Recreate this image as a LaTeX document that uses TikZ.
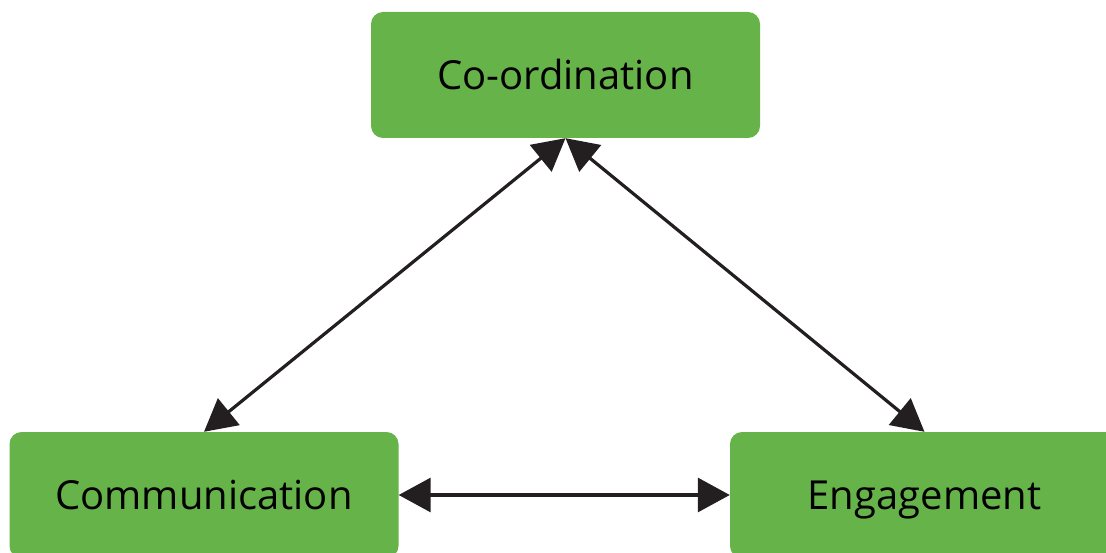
\documentclass[tikz,border=0pt]{standalone}
\usepackage{fontspec}
\setmainfont{Open Sans}
\usetikzlibrary{arrows.meta}
\definecolor{boxgreen}{HTML}{66B34A}
\definecolor{linedark}{HTML}{231F20}
\tikzset{
  stage/.style={fill=boxgreen, rounded corners=12pt, minimum width=389pt,
    minimum height=126pt, inner sep=0pt, text height=39pt, text depth=10pt,
    font=\fontsize{40}{46}\selectfont, text=black},
  link/.style={draw=linedark, line width=3.2pt,
    {Triangle[length=32pt,width=34pt]}-{Triangle[length=32pt,width=34pt]}}
}
\begin{document}
\begin{tikzpicture}[x=1pt,y=-1pt]
  \useasboundingbox (0,0) rectangle (1106,553);
  \clip (0,0) rectangle (1106,553);
  \node[stage] (coord) at (565.5,75) {Co-ordination};
  \node[stage] (comm) at (204,495) {Communication};
  \node[stage] (eng) at (924.5,495) {Engagement};
  \draw[link] (coord.south) -- (comm.north);
  \draw[link] (coord.south) -- (eng.north);
  \draw[link] (comm.east) -- (eng.west);
\end{tikzpicture}
\end{document}
